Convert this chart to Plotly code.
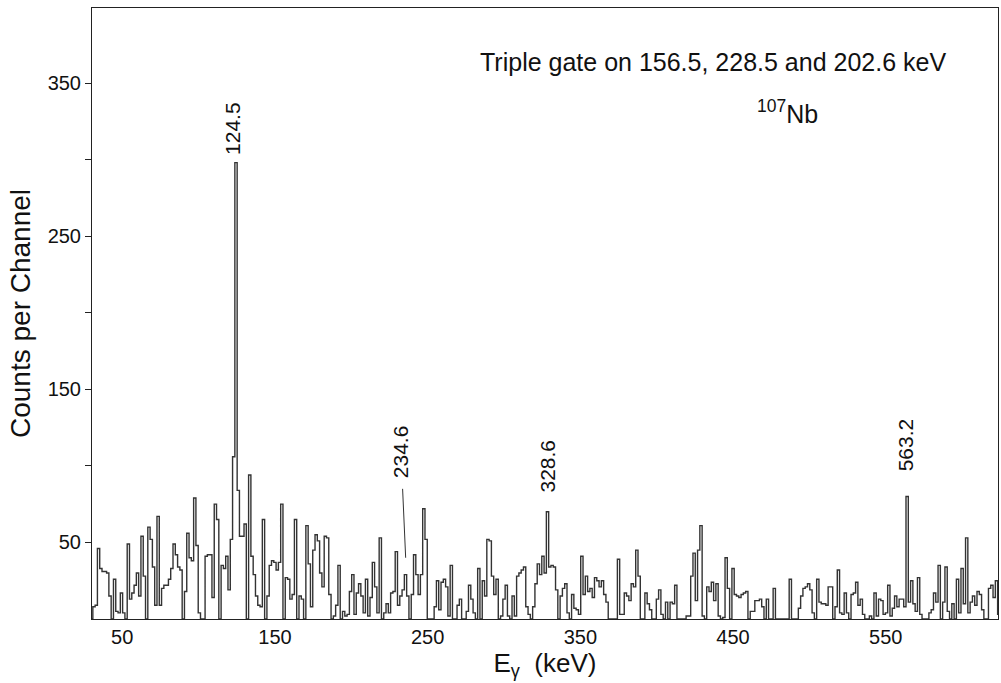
import numpy as np
import plotly.graph_objects as go

# ---- data ----
bin_start_kev = 29.25
bin_width_kev = 1.5
counts = [
    0, 8, 9, 46, 33, 31, 31, 30, 15, 0,
    26, 5, 4, 17, 4, 0, 49, 13, 17, 22,
    30, 15, 54, 28, 0, 60, 52, 34, 9, 67,
    9, 20, 22, 22, 26, 33, 49, 42, 34, 32,
    0, 18, 56, 40, 38, 79, 48, 4, 0, 0,
    41, 42, 42, 14, 75, 65, 0, 35, 33, 41,
    19, 52, 106, 298, 84, 54, 54, 62, 0, 94,
    41, 29, 15, 9, 8, 65, 0, 15, 35, 38,
    37, 32, 37, 75, 0, 27, 26, 13, 16, 65,
    0, 15, 13, 0, 61, 36, 8, 45, 55, 51,
    30, 21, 54, 53, 16, 0, 2, 9, 35, 0,
    5, 2, 3, 18, 29, 3, 17, 23, 15, 4,
    26, 2, 14, 37, 21, 4, 53, 0, 4, 10,
    4, 17, 18, 44, 9, 15, 19, 29, 15, 0,
    16, 42, 29, 16, 29, 72, 52, 0, 0, 0,
    8, 25, 6, 24, 26, 21, 2, 35, 0, 0,
    9, 13, 0, 0, 5, 22, 13, 4, 0, 33,
    0, 25, 15, 52, 51, 28, 16, 26, 0, 2,
    13, 22, 2, 0, 15, 2, 28, 30, 32, 34,
    8, 3, 0, 8, 23, 36, 29, 41, 30, 70,
    34, 35, 34, 19, 0, 15, 20, 23, 4, 0,
    16, 7, 6, 3, 41, 16, 28, 18, 20, 14,
    27, 25, 21, 25, 16, 11, 0, 0, 0, 0,
    39, 3, 3, 17, 15, 12, 23, 21, 45, 28,
    0, 0, 17, 10, 6, 0, 0, 13, 19, 3,
    0, 11, 0, 11, 10, 22, 0, 0, 0, 0,
    2, 2, 28, 43, 12, 45, 61, 2, 0, 21,
    18, 24, 12, 23, 2, 0, 1, 40, 20, 0,
    33, 16, 15, 14, 16, 17, 18, 0, 5, 5,
    12, 12, 13, 8, 0, 13, 0, 0, 20, 0,
    0, 0, 0, 0, 0, 26, 0, 0, 0, 7,
    15, 20, 21, 23, 19, 4, 0, 26, 11, 10,
    10, 9, 21, 21, 0, 8, 32, 4, 3, 17,
    4, 0, 16, 17, 24, 9, 13, 3, 0, 0,
    2, 0, 17, 2, 13, 12, 3, 4, 22, 2,
    7, 15, 8, 13, 13, 8, 80, 11, 25, 10,
    5, 27, 3, 0, 0, 0, 4, 6, 17, 11,
    35, 0, 11, 34, 5, 0, 10, 0, 26, 4,
    33, 10, 53, 4, 11, 15, 9, 18, 16, 6,
    0, 0, 20, 22, 14, 25, 3,
]
peak_energies = [124.5, 234.6, 328.6, 563.2]
peak_labels = ["124.5", "234.6", "328.6", "563.2"]
x_tick_vals = [50, 150, 250, 350, 450, 550]
y_tick_vals = [50, 150, 250, 350]
y_minor_tick_vals = [100, 200, 300]
title_text = "Triple gate on 156.5, 228.5 and 202.6 keV"
nucleus_text = "<sup>107</sup>Nb"

# ---- histogram steps ----
counts_arr = np.array(counts, dtype=float)
edges = bin_start_kev + bin_width_kev * np.arange(len(counts_arr) + 1)
x_step = edges
y_step = np.append(counts_arr, counts_arr[-1])

FONT = "Arial, 'Liberation Sans', Helvetica, sans-serif"
LINE = "#333333"

fig = go.Figure()
fig.add_trace(go.Scatter(
    x=x_step, y=y_step, mode="lines", line_shape="hv",
    line=dict(color=LINE, width=1.4), hoverinfo="skip", showlegend=False,
))

# peak labels (rotated)
label_y = [320, 109, 100, 114]
label_shift = [-3, -4, 0, 0]
for e, t, yy, sh in zip(peak_energies, peak_labels, label_y, label_shift):
    fig.add_annotation(x=e, y=yy, xref="x", yref="y", text=t, showarrow=False,
                       textangle=-90, xanchor="center", yanchor="middle", xshift=sh,
                       font=dict(family=FONT, size=21, color="#111"))

# connector line for 234.6
fig.add_shape(type="line", xref="x", yref="y", x0=233.6, y0=85, x1=235.6, y1=40,
              line=dict(color=LINE, width=1))

fig.add_annotation(x=0.685, y=0.912, xref="paper", yref="paper", text=title_text,
                   showarrow=False, xanchor="center", yanchor="middle",
                   font=dict(family=FONT, size=25, color="#111"))
fig.add_annotation(x=0.768, y=0.83, xref="paper", yref="paper", text=nucleus_text,
                   showarrow=False, xanchor="center", yanchor="middle",
                   font=dict(family=FONT, size=25, color="#111"))

fig.update_layout(
    width=1001, height=683,
    margin=dict(l=92, r=3, t=8, b=64),
    paper_bgcolor="white", plot_bgcolor="white",
    font=dict(family=FONT, color="#111"),
    xaxis=dict(range=[30.2, 623.5], tickvals=x_tick_vals, ticks="",
               showline=True, linecolor="#222", linewidth=1, mirror=True,
               showgrid=False, zeroline=False,
               tickfont=dict(family=FONT, size=20, color="#111"),
               title=dict(text="E<sub>γ</sub>  (keV)", standoff=6,
                          font=dict(family=FONT, size=26, color="#111"))),
    yaxis=dict(range=[0, 399], tickvals=y_tick_vals,
               ticks="outside", ticklen=6, tickcolor="#222",
               minor=dict(tickvals=y_minor_tick_vals, ticks="outside", ticklen=6,
                          tickcolor="#222", showgrid=False),
               showline=True, linecolor="#222", linewidth=1, mirror=True,
               showgrid=False, zeroline=False,
               tickfont=dict(family=FONT, size=20, color="#111"),
               title=dict(text="Counts per Channel", standoff=8,
                          font=dict(family=FONT, size=28, color="#111"))),
)

fig.write_html("out.html", config={"displayModeBar": False},
               post_script="document.body.style.margin='0';document.body.style.overflow='hidden';")
